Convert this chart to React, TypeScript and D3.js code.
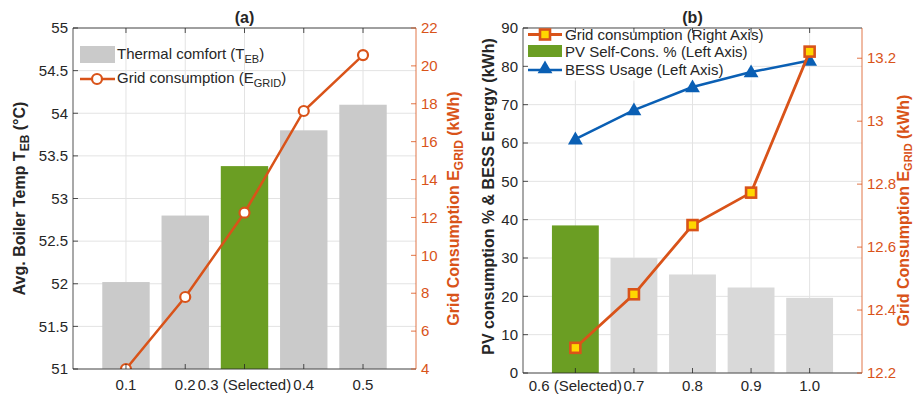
import React from "react";
import * as d3 from "d3";

// ---- Panel (a): thermal comfort vs grid consumption ----
const catsA = ["0.1", "0.2", "0.3 (Selected)", "0.4", "0.5"];
const tempEB = [52.02, 52.8, 53.38, 53.8, 54.1];
const gridA = [4.0, 7.8, 12.25, 17.62, 20.57];
const selectedA = 2;
const ticksLeftA = [51, 51.5, 52, 52.5, 53, 53.5, 54, 54.5, 55];
const ticksRightA = [4, 6, 8, 10, 12, 14, 16, 18, 20, 22];

// ---- Panel (b): PV self-consumption, BESS usage and grid consumption ----
const catsB = ["0.6 (Selected)", "0.7", "0.8", "0.9", "1.0"];
const pvSelfCons = [38.5, 30.0, 25.7, 22.3, 19.6];
const bessUsage = [61.0, 68.6, 74.6, 78.5, 81.5];
const gridB = [12.28, 12.45, 12.67, 12.773, 13.221];
const selectedB = 0;
const ticksLeftB = [0, 10, 20, 30, 40, 50, 60, 70, 80, 90];
const ticksRightB = [12.2, 12.4, 12.6, 12.8, 13, 13.2];

const ORANGE = "#D95319";
const BLUE = "#0A5FB4";
const GREEN = "#6B9E23";
const AXIS = "#262626";
const GRID = "#E3E3E3";
const FONT = "'Liberation Sans', Arial, Helvetica, sans-serif";
const TICK_FS = 15;
const LEG_FS = 15;
const LABEL_FS = 16;
const HEIGHT = 395;

type Box = { left: number; right: number; top: number; bottom: number };

const boxA: Box = { left: 73, right: 416, top: 28, bottom: 369 };
const boxB: Box = { left: 523, right: 862, top: 28, bottom: 373 };

const PAD = 0.894;
const TICK = 5;

function xScaleFor(box: Box, n: number) {
  return d3.scaleLinear().domain([-PAD, n - 1 + PAD]).range([box.left, box.right]);
}

function Frame({ box, x, n, cats, yL, ticksL, yR, ticksR }: any) {
  const labelY = Math.min(box.bottom + 21, HEIGHT - 4);
  return (
    <g>
      {/* top edge */}
      <line x1={box.left} x2={box.right} y1={box.top} y2={box.top} stroke={AXIS} strokeWidth={0.8} />
      {/* bottom axis */}
      <line x1={box.left} x2={box.right} y1={box.bottom} y2={box.bottom} stroke={AXIS} strokeWidth={0.8} />
      {d3.range(n).map((i) => (
        <g key={"xt" + i}>
          <line x1={x(i)} x2={x(i)} y1={box.bottom} y2={box.bottom - TICK} stroke={AXIS} strokeWidth={0.8} />
          <line x1={x(i)} x2={x(i)} y1={box.top} y2={box.top + TICK} stroke={AXIS} strokeWidth={0.8} />
          <text x={x(i)} y={labelY} textAnchor="middle" fontSize={TICK_FS} fill={AXIS}>
            {cats[i]}
          </text>
        </g>
      ))}
      {/* left axis */}
      <line x1={box.left} x2={box.left} y1={box.top} y2={box.bottom} stroke={AXIS} strokeWidth={0.8} />
      {ticksL.map((t: number) => (
        <g key={"yl" + t}>
          <line x1={box.left} x2={box.left + TICK} y1={yL(t)} y2={yL(t)} stroke={AXIS} strokeWidth={0.8} />
          <text x={box.left - 5} y={yL(t)} dy="0.35em" textAnchor="end" fontSize={TICK_FS} fill={AXIS}>
            {t}
          </text>
        </g>
      ))}
      {/* right axis */}
      <line x1={box.right} x2={box.right} y1={box.top} y2={box.bottom} stroke={ORANGE} strokeWidth={0.8} />
      {ticksR.map((t: number) => (
        <g key={"yr" + t}>
          <line x1={box.right} x2={box.right - TICK} y1={yR(t)} y2={yR(t)} stroke={ORANGE} strokeWidth={0.8} />
          <text x={box.right + 5} y={yR(t)} dy="0.35em" textAnchor="start" fontSize={TICK_FS} fill={ORANGE}>
            {t}
          </text>
        </g>
      ))}
    </g>
  );
}

function Grid({ box, x, n, yL, ticksL }: any) {
  return (
    <g>
      {d3.range(n).map((i) => (
        <line key={"gv" + i} x1={x(i)} x2={x(i)} y1={box.top} y2={box.bottom} stroke={GRID} strokeWidth={1} />
      ))}
      {ticksL.map((t: number) => (
        <line key={"gh" + t} x1={box.left} x2={box.right} y1={yL(t)} y2={yL(t)} stroke={GRID} strokeWidth={1} />
      ))}
    </g>
  );
}

export default function App() {
  const nA = catsA.length;
  const xA = xScaleFor(boxA, nA);
  const yLA = d3.scaleLinear().domain([51, 55]).range([boxA.bottom, boxA.top]);
  const yRA = d3.scaleLinear().domain([4, 22]).range([boxA.bottom, boxA.top]);
  const bwA = (xA(1) - xA(0)) * 0.8;
  const lineA = d3
    .line<number>()
    .x((_, i) => xA(i))
    .y((d) => yRA(d));

  const nB = catsB.length;
  const xB = xScaleFor(boxB, nB);
  const yLB = d3.scaleLinear().domain([0, 90]).range([boxB.bottom, boxB.top]);
  const yRB = d3.scaleLinear().domain([12.2, 13.296]).range([boxB.bottom, boxB.top]);
  const bwB = (xB(1) - xB(0)) * 0.8;
  const lineBessB = d3
    .line<number>()
    .x((_, i) => xB(i))
    .y((d) => yLB(d));
  const lineGridB = d3
    .line<number>()
    .x((_, i) => xB(i))
    .y((d) => yRB(d));

  const tri = d3.symbol().type(d3.symbolTriangle).size(95)()!;

  return (
    <svg width={914} height={HEIGHT} style={{ position: "absolute", left: 0, top: 0, background: "#fff" }} fontFamily={FONT}>
      <defs>
        <clipPath id="clipA">
          <rect x={boxA.left} y={boxA.top} width={boxA.right - boxA.left} height={boxA.bottom - boxA.top} />
        </clipPath>
        <clipPath id="clipB">
          <rect x={boxB.left} y={boxB.top} width={boxB.right - boxB.left} height={boxB.bottom - boxB.top} />
        </clipPath>
      </defs>

      {/* ===== Panel (a) ===== */}
      <Grid box={boxA} x={xA} n={nA} yL={yLA} ticksL={ticksLeftA} />
      {tempEB.map((v, i) => (
        <rect
          key={"ba" + i}
          x={xA(i) - bwA / 2}
          y={yLA(v)}
          width={bwA}
          height={boxA.bottom - yLA(v)}
          fill={i === selectedA ? GREEN : "#CACACA"}
        />
      ))}
      <g clipPath="url(#clipA)">
        <path d={lineA(gridA)!} fill="none" stroke={ORANGE} strokeWidth={2.5} />
        {gridA.map((v, i) => (
          <circle key={"ca" + i} cx={xA(i)} cy={yRA(v)} r={5} fill="#fff" stroke={ORANGE} strokeWidth={2.2} />
        ))}
      </g>
      <Frame box={boxA} x={xA} n={nA} cats={catsA} yL={yLA} ticksL={ticksLeftA} yR={yRA} ticksR={ticksRightA} />
      <text x={xA(2)} y={23} textAnchor="middle" fontSize={16} fontWeight="bold" fill={AXIS}>
        (a)
      </text>
      {/* legend (a) */}
      <rect x={80} y={46} width={35} height={17} fill="#CACACA" />
      <text x={117} y={59} fontSize={LEG_FS} fill={AXIS}>
        Thermal comfort (T<tspan fontSize={11} dy={4}>EB</tspan>
        <tspan dy={-4}>)</tspan>
      </text>
      <line x1={80} x2={115} y1={79} y2={79} stroke={ORANGE} strokeWidth={2.5} />
      <circle cx={97} cy={79} r={5} fill="#fff" stroke={ORANGE} strokeWidth={2.2} />
      <text x={117} y={83} fontSize={LEG_FS} fill={AXIS}>
        Grid consumption (E<tspan fontSize={11} dy={4}>GRID</tspan>
        <tspan dy={-4}>)</tspan>
      </text>
      {/* axis titles (a) */}
      <text
        transform={`translate(25,${(boxA.top + boxA.bottom) / 2}) rotate(-90)`}
        textAnchor="middle"
        fontSize={LABEL_FS}
        fontWeight="bold"
        fill={AXIS}
      >
        Avg. Boiler Temp T<tspan fontSize={12} dy={4}>EB</tspan>
        <tspan dy={-4}> (°C)</tspan>
      </text>
      <text
        transform={`translate(459,${(boxA.top + boxA.bottom) / 2 + 10}) rotate(-90)`}
        textAnchor="middle"
        fontSize={LABEL_FS}
        fontWeight="bold"
        fill={ORANGE}
      >
        Grid Consumption E<tspan fontSize={12} dy={4}>GRID</tspan>
        <tspan dy={-4}> (kWh)</tspan>
      </text>

      {/* ===== Panel (b) ===== */}
      <Grid box={boxB} x={xB} n={nB} yL={yLB} ticksL={ticksLeftB} />
      {pvSelfCons.map((v, i) => (
        <rect
          key={"bb" + i}
          x={xB(i) - bwB / 2}
          y={yLB(v)}
          width={bwB}
          height={boxB.bottom - yLB(v)}
          fill={i === selectedB ? GREEN : "#D9D9D9"}
        />
      ))}
      {/* legend background covers the grid */}
      <rect x={boxB.left + 0.5} y={boxB.top + 0.5} width={228} height={52} fill="#fff" />
      <g clipPath="url(#clipB)">
        <path d={lineBessB(bessUsage)!} fill="none" stroke={BLUE} strokeWidth={2.5} />
        {bessUsage.map((v, i) => (
          <path key={"tb" + i} d={tri} transform={`translate(${xB(i)},${yLB(v) + 1})`} fill={BLUE} />
        ))}
        <path d={lineGridB(gridB)!} fill="none" stroke={ORANGE} strokeWidth={2.8} />
        {gridB.map((v, i) => (
          <rect
            key={"sb" + i}
            x={xB(i) - 5}
            y={yRB(v) - 5}
            width={10}
            height={10}
            fill="#FFD700"
            stroke={ORANGE}
            strokeWidth={2.6}
          />
        ))}
      </g>
      <Frame box={boxB} x={xB} n={nB} cats={catsB} yL={yLB} ticksL={ticksLeftB} yR={yRB} ticksR={ticksRightB} />
      <text x={xB(2)} y={23} textAnchor="middle" fontSize={16} fontWeight="bold" fill={AXIS}>
        (b)
      </text>
      {/* legend (b) */}
      <line x1={528} x2={562} y1={34.5} y2={34.5} stroke={ORANGE} strokeWidth={2.8} />
      <rect x={540} y={29.5} width={10} height={10} fill="#FFD700" stroke={ORANGE} strokeWidth={2.6} />
      <text x={565} y={39.5} fontSize={LEG_FS} fill={AXIS}>
        Grid consumption (Right Axis)
      </text>
      <rect x={528} y={45} width={34} height={12} fill={GREEN} />
      <text x={565} y={57} fontSize={LEG_FS} fill={AXIS}>
        PV Self-Cons. % (Left Axis)
      </text>
      <line x1={528} x2={562} y1={70} y2={70} stroke={BLUE} strokeWidth={2.5} />
      <path d={tri} transform={`translate(545,${70 - 1})`} fill={BLUE} />
      <text x={565} y={75} fontSize={LEG_FS} fill={AXIS}>
        BESS Usage (Left Axis)
      </text>
      {/* axis titles (b) */}
      <text
        transform={`translate(494,${(boxB.top + boxB.bottom) / 2 - 4}) rotate(-90)`}
        textAnchor="middle"
        fontSize={LABEL_FS}
        fontWeight="bold"
        fill={AXIS}
      >
        PV consumption % &amp; BESS Energy (kWh)
      </text>
      <text
        transform={`translate(909,${(boxB.top + boxB.bottom) / 2 + 10}) rotate(-90)`}
        textAnchor="middle"
        fontSize={LABEL_FS}
        fontWeight="bold"
        fill={ORANGE}
      >
        Grid Consumption E<tspan fontSize={11} dy={3}>GRID</tspan>
        <tspan dy={-3}> (kWh)</tspan>
      </text>
    </svg>
  );
}
